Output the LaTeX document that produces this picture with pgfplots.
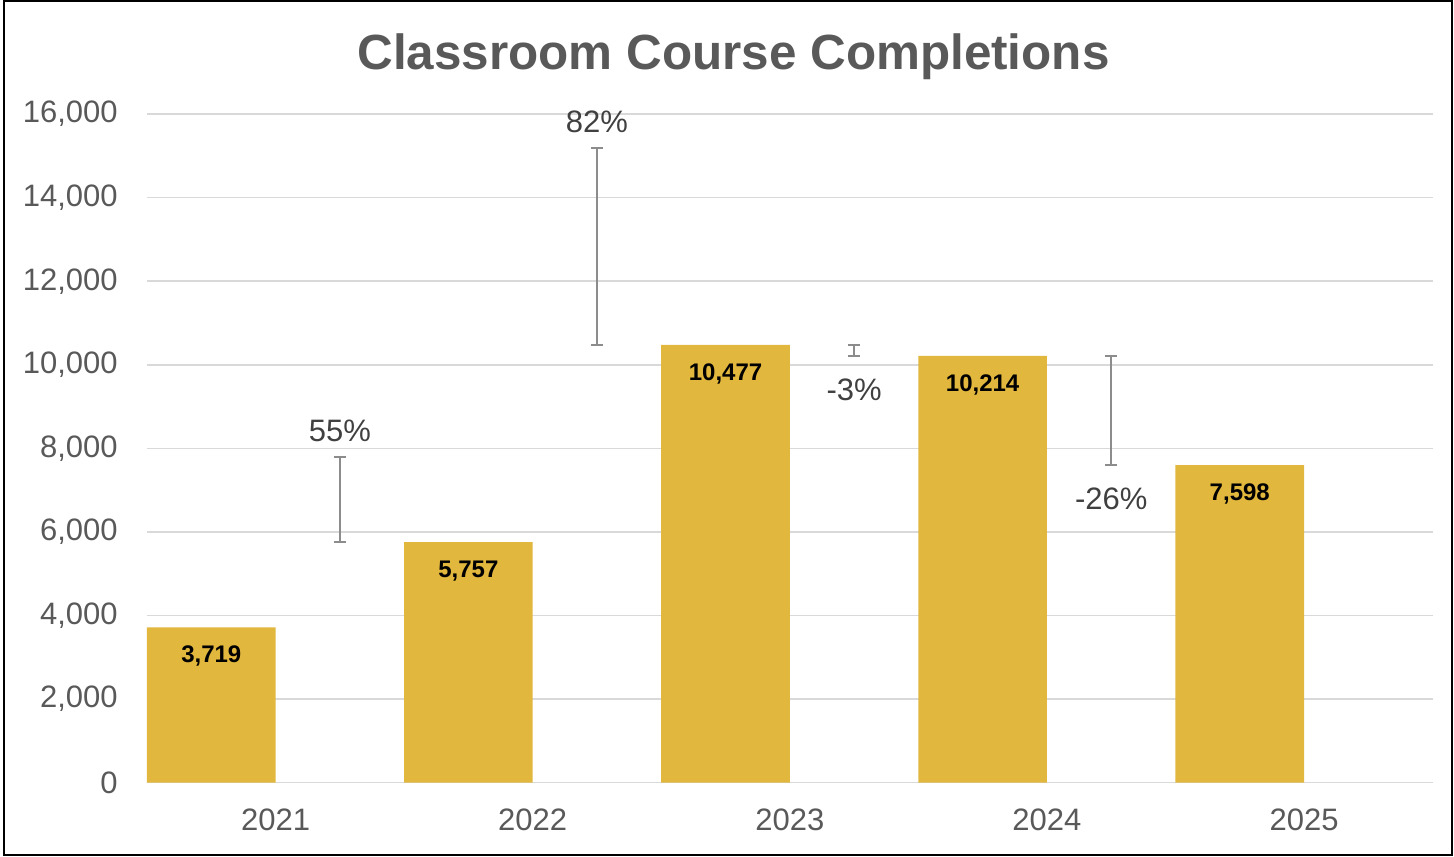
\documentclass[border=0pt]{standalone}
\usepackage{pgfplots}
\pgfplotsset{compat=1.18}
\usepackage{fontspec}
\setmainfont{Liberation Sans}
\definecolor{barcol}{RGB}{226,183,61}
\definecolor{txtgray}{RGB}{89,89,89}
\definecolor{pctgray}{RGB}{64,64,64}
\definecolor{gridgray}{RGB}{217,217,217}
\definecolor{errgray}{RGB}{140,140,140}
\begin{document}
\begin{tikzpicture}
\begin{axis}[
  name=ax,
  scale only axis,
  width=642.8pt, height=334.3pt,
  xmin=0, xmax=5, ymin=0, ymax=16000,
  ytick={0,2000,...,16000},
  xtick={0.5,1.5,2.5,3.5,4.5},
  xticklabels={2021,2022,2023,2024,2025},
  /pgf/number format/fixed,
  /pgf/number format/precision=0,
  /pgf/number format/1000 sep={,},
  /pgf/number format/assume math mode=true,
  scaled y ticks=false,
  ymajorgrids,
  grid style={draw=gridgray, line width=0.75pt},
  axis line style={draw=none},
  tick style={draw=none},
  major tick length=0pt,
  yticklabel style={anchor=east, inner sep=0pt, xshift=-14.5pt, font=\fontsize{15.5}{18}\selectfont, text=txtgray},
  xticklabel style={anchor=center, inner sep=0pt, yshift=-18.5pt, font=\fontsize{15.5}{18}\selectfont, text=txtgray},
  clip=false,
]
\addplot[ybar, bar width=0.5, bar shift=0pt, fill=barcol, draw=none,
  nodes near coords,
  every node near coord/.append style={anchor=center, yshift=-14.5pt, inner sep=0pt, text=black, font=\bfseries\fontsize{12}{14}\selectfont}]
  coordinates {(0.25,3719) (1.25,5757) (2.25,10477) (3.25,10214) (4.25,7598)};
% change bars: centre = midpoint between consecutive years, half-length = half the difference
\addplot[forget plot, draw=none, mark=none,
  error bars/.cd, y dir=both, y explicit,
  error bar style={draw=errgray, line width=1pt},
  error mark options={draw=errgray, line width=1pt, rotate=90, mark size=3pt}]
  coordinates {
    (0.75,6776) +- (0,1019)
    (1.75,12837) +- (0,2360)
    (2.75,10345.5) +- (0,131.5)
    (3.75,8906) +- (0,1308)
  };
\addplot[only marks, mark=none, point meta=explicit symbolic, nodes near coords,
  every node near coord/.append style={anchor=center, yshift=13pt, inner sep=0pt, text=pctgray, font=\fontsize{15.5}{18}\selectfont}]
  coordinates {(0.75,7795) [55\%] (1.75,15197) [82\%]};
\addplot[only marks, mark=none, point meta=explicit symbolic, nodes near coords,
  every node near coord/.append style={anchor=center, yshift=-17pt, inner sep=0pt, text=pctgray, font=\fontsize{15.5}{18}\selectfont}]
  coordinates {(2.75,10214) [-3\%] (3.75,7598) [-26\%]};
\end{axis}
\node[font=\bfseries\fontsize{24.7}{30}\selectfont, text=txtgray] at ([shift={(293.25pt,363pt)}]ax.south west) {Classroom Course Completions};
\draw[line width=1pt] ([shift={(-71.25pt,-36.15pt)}]ax.south west) rectangle ([shift={(652.25pt,390.6pt)}]ax.south west);
\pgfresetboundingbox
\useasboundingbox ([shift={(-73.5pt,-36.65pt)}]ax.south west) rectangle ([shift={(653.5pt,391.35pt)}]ax.south west);
\end{tikzpicture}
\end{document}
